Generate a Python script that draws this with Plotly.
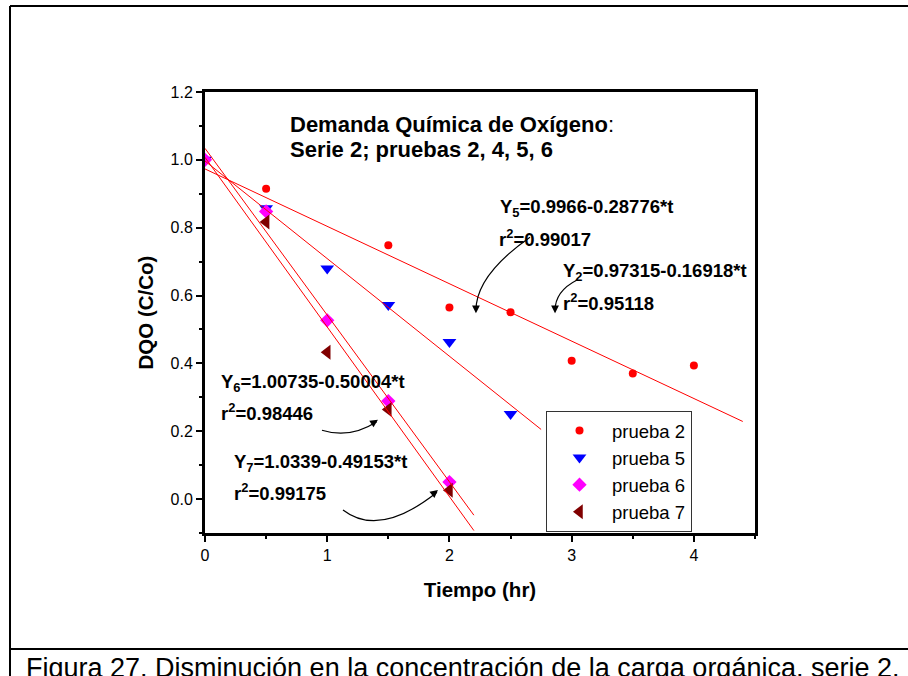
import plotly.graph_objects as go

# Measured COD ratio (C/Co) versus time (hr) for each test
t_p2 = [0, 0.5, 1.5, 2.0, 2.5, 3.0, 3.5, 4.0]
c_p2 = [1.0, 0.915, 0.748, 0.565, 0.551, 0.408, 0.370, 0.394]

t_p5 = [0, 0.5, 1.0, 1.5, 2.0, 2.5]
c_p5 = [1.0, 0.857, 0.680, 0.572, 0.463, 0.251]

t_p6 = [0, 0.5, 1.0, 1.5, 2.0]
c_p6 = [1.0, 0.848, 0.527, 0.289, 0.050]

t_p7 = [0.5, 1.0, 1.5, 2.0]
c_p7 = [0.817, 0.433, 0.264, 0.026]

# Linear fits: intercept, slope, time span of the drawn line
fit_y2 = (0.97315, -0.16918, [0, 4.4])
fit_y5 = (0.9966, -0.28776, [0, 2.75])
fit_y6 = (1.00735, -0.50004, [0, 2.2])
fit_y7 = (1.0339, -0.49153, [0, 2.2])

x_ticks = [0, 1, 2, 3, 4]
y_ticks = [0.0, 0.2, 0.4, 0.6, 0.8, 1.0, 1.2]

FONT = "Arial, Liberation Sans, sans-serif"
W, H = 908, 676
ML, MR, MT, MB = 205, 153, 92, 143
PW, PH = W - ML - MR, H - MT - MB


def px(xp):
    return (xp - ML) / PW


def py(yp):
    return (H - MB - yp) / PH


fig = go.Figure()

series = [
    ("prueba 2", t_p2, c_p2, "circle", "#ff0000", 8),
    ("prueba 5", t_p5, c_p5, "triangle-down", "#0000ff", 12),
    ("prueba 6", t_p6, c_p6, "diamond", "#ff00ff", 11),
    ("prueba 7", t_p7, c_p7, "triangle-left", "#800000", 13),
]
for name, xs, ys, sym, col, size in series:
    fig.add_trace(go.Scatter(
        x=xs, y=ys, mode="markers", name=name, cliponaxis=True,
        marker=dict(symbol=sym, color=col, size=size, line=dict(width=0)),
    ))

for a, b, span in (fit_y2, fit_y5, fit_y6, fit_y7):
    fig.add_trace(go.Scatter(
        x=span, y=[a + b * t for t in span], mode="lines",
        line=dict(color="#ff0000", width=1), showlegend=False, hoverinfo="skip",
    ))

annotations = []

# Chart heading inside the plot
heading = [
    ("<b>Demanda Química de Oxígeno</b>:", 288, 124),
    ("<b>Serie 2; pruebas 2, 4, 5, 6</b>", 288, 149),
]
for txt, xp, yp in heading:
    annotations.append(dict(text=txt, x=px(xp), y=py(yp), xref="paper", yref="paper",
                            xanchor="left", yanchor="middle", showarrow=False,
                            font=dict(family=FONT, size=22, color="black")))

# Regression equations
equations = [
    ("<b>Y<sub>5</sub>=0.9966-0.28776*t</b>", 498, 208),
    ("<b>r<sup>2</sup>=0.99017</b>", 497, 238),
    ("<b>Y<sub>2</sub>=0.97315-0.16918*t</b>", 561, 272),
    ("<b>r<sup>2</sup>=0.95118</b>", 561, 302),
    ("<b>Y<sub>6</sub>=1.00735-0.50004*t</b>", 219, 383),
    ("<b>r<sup>2</sup>=0.98446</b>", 219, 412),
    ("<b>Y<sub>7</sub>=1.0339-0.49153*t</b>", 232, 463),
    ("<b>r<sup>2</sup>=0.99175</b>", 232, 492),
]
for txt, xp, yp in equations:
    annotations.append(dict(text=txt, x=px(xp), y=py(yp), xref="paper", yref="paper",
                            xanchor="left", yanchor="middle", showarrow=False,
                            font=dict(family=FONT, size=18.5, color="black")))

# Curved pointers from each equation to its line
curves = [
    "M 2.659,0.772 Q 2.217,0.660 2.217,0.556",
    "M 3.044,0.646 Q 2.864,0.613 2.864,0.556",
    "M 0.957,0.203 Q 1.186,0.177 1.405,0.228",
    "M 1.129,-0.032 Q 1.428,-0.115 1.898,0.020",
]
heads = [
    (2.217, 0.548, 0, -8),
    (2.864, 0.548, 0, -8),
    (1.415, 0.234, -7, 4.5),
    (1.906, 0.027, -6.2, 5.1),
]
shapes = [dict(type="path", path=p, xref="x", yref="y",
               line=dict(color="black", width=1.2)) for p in curves]
for hx, hy, ax, ay in heads:
    annotations.append(dict(x=hx, y=hy, xref="x", yref="y", text="", showarrow=True,
                            ax=ax, ay=ay, axref="pixel", ayref="pixel",
                            arrowhead=2, arrowsize=1.3, arrowwidth=1.2,
                            arrowcolor="black", standoff=0))

# Page frame around the figure and caption divider
frame = [
    (10, 6, 920, 6, 2),
    (10, 6, 10, 690, 2),
    (10, 649, 920, 649, 2),
]
for x0, y0, x1, y1, w in frame:
    shapes.append(dict(type="line", xref="paper", yref="paper",
                       x0=px(x0), y0=py(y0), x1=px(x1), y1=py(y1),
                       line=dict(color="black", width=w)))

annotations.append(dict(
    text="Figura 27. Disminución en la concentración de la carga orgánica, serie 2.",
    x=px(24), y=py(668), xref="paper", yref="paper", xanchor="left", yanchor="middle",
    showarrow=False, font=dict(family=FONT, size=27, color="black")))

axis_common = dict(
    showline=True, linewidth=3, linecolor="black", mirror=True,
    showgrid=False, zeroline=False,
    ticks="outside", ticklen=6, tickwidth=2, tickcolor="black",
    tickfont=dict(family=FONT, size=16, color="black"),
)

fig.update_layout(
    width=W, height=H,
    margin=dict(l=ML, r=MR, t=MT, b=MB),
    paper_bgcolor="white", plot_bgcolor="white",
    showlegend=True,
    legend=dict(
        x=px(546), y=py(411), xanchor="left", yanchor="top",
        bgcolor="white", bordercolor="#333333", borderwidth=1,
        itemwidth=55,
        font=dict(family=FONT, size=18.5, color="black"),
    ),
    xaxis=dict(
        range=[0, 4.5], tickvals=x_ticks, ticktext=[str(v) for v in x_ticks],
        minor=dict(dtick=0.5, tick0=0, ticks="outside", ticklen=3, tickwidth=2, tickcolor="black"),
        title=dict(text="<b>Tiempo (hr)</b>", font=dict(family=FONT, size=20.5, color="black"),
                   standoff=20),
        **axis_common,
    ),
    yaxis=dict(
        range=[-0.1, 1.2], tickvals=y_ticks, ticktext=[f"{v:.1f}" for v in y_ticks],
        minor=dict(dtick=0.1, tick0=0, ticks="outside", ticklen=3, tickwidth=2, tickcolor="black"),
        title=dict(text="<b>DQO (C/Co)</b>", font=dict(family=FONT, size=20.5, color="black"),
                   standoff=12),
        **axis_common,
    ),
    annotations=annotations,
    shapes=shapes,
)

fig.write_html("out.html")
